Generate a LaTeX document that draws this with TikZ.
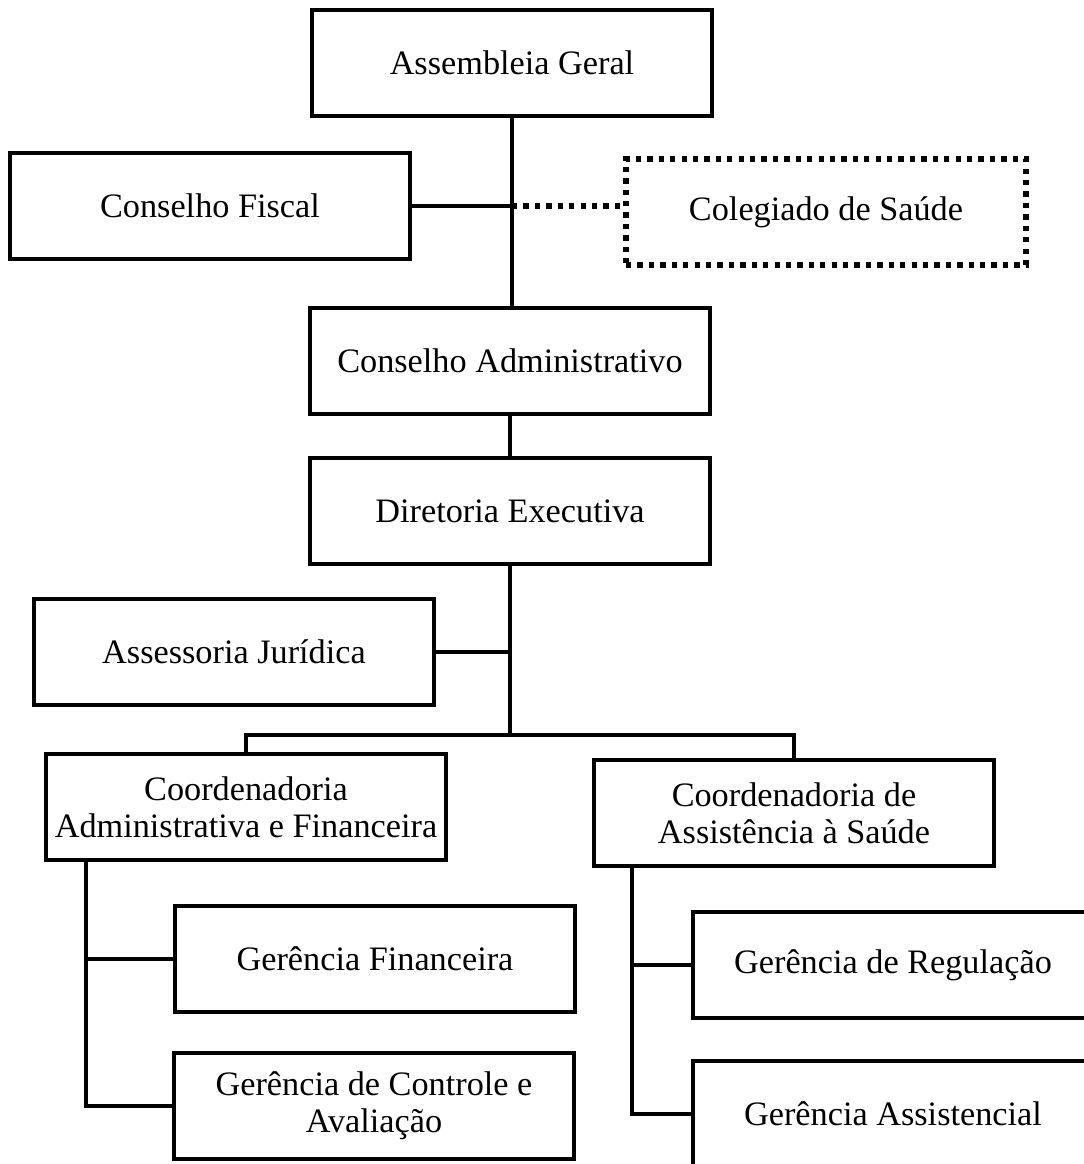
\documentclass[tikz,border=0pt]{standalone}
\usepackage{fontspec}
\setmainfont{Liberation Serif}
\begin{document}
\begin{tikzpicture}[x=0.02cm, y=-0.02cm,
        org/.style={draw, line width=2.2pt, fill=white,
                        minimum width=8cm, minimum height=2.12cm,
                        inner sep=2pt, align=center,
                        font=\fontsize{19.5}{21}\selectfont},
        link/.style={line width=2.2pt},
        dotbox/.style={org, line width=3pt, dash pattern=on 3pt off 3.5pt},
        dotlink/.style={line width=3pt, dash pattern=on 3pt off 3.5pt}]
    \useasboundingbox (0,0) rectangle (1084,1164);
    \clip (0,0) rectangle (1084,1164);

    % upper part
    \node[org] (ag) at (512,63) {Assembleia Geral};
    \node[org] (cf) at (210,206) {Conselho Fiscal};
    \node[dotbox] (cs) at (826,212) {Colegiado de Saúde};
    \node[org] (ca) at (510,361) {Conselho Administrativo};
    \node[org] (de) at (510,511) {Diretoria Executiva};
    \node[org] (aj) at (234,652) {Assessoria Jurídica};

    % coordinations
    \node[org] (caf) at (246,807) {Coordenadoria\\Administrativa e Financeira};
    \node[org] (cas) at (794,813) {Coordenadoria de\\Assistência à Saúde};

    % managements
    \node[org] (gf) at (375,959) {Gerência Financeira};
    \node[org] (gca) at (374,1106) {Gerência de Controle e\\Avaliação};
    \node[org] (gr) at (893,965) {Gerência de Regulação};
    \node[org] (ga) at (893,1114) {Gerência Assistencial};

    \coordinate (j1) at (ag.south |- cf.east);
    \coordinate (bus) at (510,735);
    \coordinate (lt) at (86,860);
    \coordinate (rt) at (632,866);

    \begin{scope}[on background layer/.try]
    \draw[link] (ag.south) -- (ag.south |- ca.north);
    \draw[link] (cf.east) -- (j1);
    \draw[dotlink] (j1) -- (cs.west |- j1);
    \draw[link] (ca.south) -- (de.north);
    \draw[link] (de.south) -- (bus);
    \draw[link] (aj.east) -- (aj.east -| bus);
    \draw[link] (caf.north) -- (caf.north |- bus) -- (cas.north |- bus) -- (cas.north);
    \draw[link] (lt) |- (gca.west);
    \draw[link] (lt |- gf.west) -- (gf.west);
    \draw[link] (rt) |- (ga.west);
    \draw[link] (rt |- gr.west) -- (gr.west);
    \end{scope}
\end{tikzpicture}
\end{document}
